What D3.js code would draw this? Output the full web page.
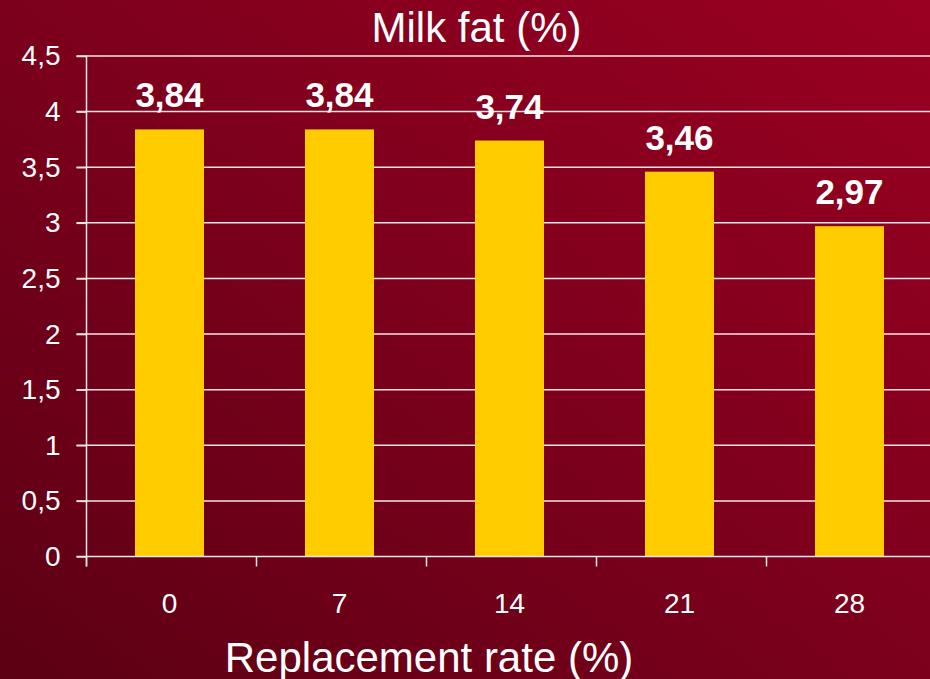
<!DOCTYPE html>
<html>
<head>
<meta charset="utf-8">
<script src="https://cdn.jsdelivr.net/npm/d3@7"></script>
<style>
  html, body { margin: 0; padding: 0; background: #7a001b; }
  svg { display: block; }
  text { font-family: "Liberation Sans", Arial, sans-serif; fill: #ffffff; }
</style>
</head>
<body>
<div id="chart"></div>
<script>
const categories = ["0", "7", "14", "21", "28"];
const values = [3.84, 3.84, 3.74, 3.46, 2.97];
const valueLabels = ["3,84", "3,84", "3,74", "3,46", "2,97"];
const yTicks = [0, 0.5, 1, 1.5, 2, 2.5, 3, 3.5, 4, 4.5];
const yTickLabels = ["0", "0,5", "1", "1,5", "2", "2,5", "3", "3,5", "4", "4,5"];
const chartTitle = "Milk fat (%)";
const xTitle = "Replacement rate (%)";

(function () {
const W = 930, H = 679;
const svg = d3.select("#chart").append("svg").attr("width", W).attr("height", H);

const defs = svg.append("defs");
const grad = defs.append("linearGradient").attr("id", "bg")
  .attr("x1", "0%").attr("y1", "100%").attr("x2", "100%").attr("y2", "0%");
grad.append("stop").attr("offset", "0%").attr("stop-color", "#5c0014");
grad.append("stop").attr("offset", "50%").attr("stop-color", "#7c001c");
grad.append("stop").attr("offset", "100%").attr("stop-color", "#9a0021");
svg.append("rect").attr("width", W).attr("height", H).attr("fill", "url(#bg)");

const mLeft = 86.5, mRight = 936.5, mTop = 56, mBottom = 556.5;

const y = d3.scaleLinear().domain([0, 4.5]).range([mBottom, mTop]);
const xAxisScale = d3.scaleBand().domain(categories).range([mLeft, mRight]);
const x = d3.scaleBand().domain(categories).range([mLeft, mRight])
  .paddingInner(0.594).paddingOuter(0.297).align(0.48);

// gridlines
svg.append("g").selectAll("line").data(yTicks.filter(d => d > 0)).join("line")
  .attr("x1", mLeft - 10).attr("x2", W)
  .attr("y1", d => y(d)).attr("y2", d => y(d))
  .attr("stroke", "#f4e4e6").attr("stroke-width", 1.5);

// bars
svg.append("g").selectAll("rect").data(values).join("rect")
  .attr("x", (d, i) => x(categories[i]))
  .attr("width", x.bandwidth())
  .attr("y", d => y(d))
  .attr("height", d => y(0) - y(d))
  .attr("fill", "#ffcc00");

// y axis
const yAxis = d3.axisLeft(y).tickValues(yTicks)
  .tickFormat((d, i) => yTickLabels[i]).tickSize(10).tickPadding(16);
const gy = svg.append("g").attr("transform", `translate(${mLeft},0)`).call(yAxis);
gy.select(".domain").remove();
gy.append("line").attr("x1", 0).attr("x2", 0).attr("y1", mTop).attr("y2", mBottom + 10)
  .attr("stroke", "#f4e4e6").attr("stroke-width", 1.5);
gy.selectAll(".tick line").attr("stroke", "#f4e4e6").attr("stroke-width", 1.5);
gy.selectAll(".tick text").attr("font-size", 28).attr("fill", "#fff")
  .attr("font-family", "Liberation Sans, Arial, sans-serif");

// x axis baseline
svg.append("line").attr("x1", mLeft - 10).attr("x2", W).attr("y1", mBottom).attr("y2", mBottom)
  .attr("stroke", "#f4e4e6").attr("stroke-width", 1.5);
// x ticks at band boundaries
const boundaries = categories.map(c => xAxisScale(c));
svg.append("g").selectAll("line").data(boundaries).join("line")
  .attr("x1", d => d).attr("x2", d => d)
  .attr("y1", mBottom).attr("y2", mBottom + 10)
  .attr("stroke", "#f4e4e6").attr("stroke-width", 1.5);
// x tick labels
svg.append("g").selectAll("text").data(categories).join("text")
  .attr("x", d => x(d) + x.bandwidth() / 2)
  .attr("y", mBottom + 56)
  .attr("text-anchor", "middle")
  .attr("font-size", 28)
  .text(d => d);

// value labels
svg.append("g").selectAll("text").data(values).join("text")
  .attr("x", (d, i) => x(categories[i]) + x.bandwidth() / 2)
  .attr("y", d => y(d) - 22)
  .attr("text-anchor", "middle")
  .attr("font-size", 35)
  .attr("font-weight", "bold")
  .text((d, i) => valueLabels[i]);

// titles
svg.append("text").attr("x", 476.5).attr("y", 42).attr("text-anchor", "middle")
  .attr("font-size", 42).text(chartTitle);
svg.append("text").attr("x", 429).attr("y", 672).attr("text-anchor", "middle")
  .attr("font-size", 42).text(xTitle);
})();
</script>
</body>
</html>
